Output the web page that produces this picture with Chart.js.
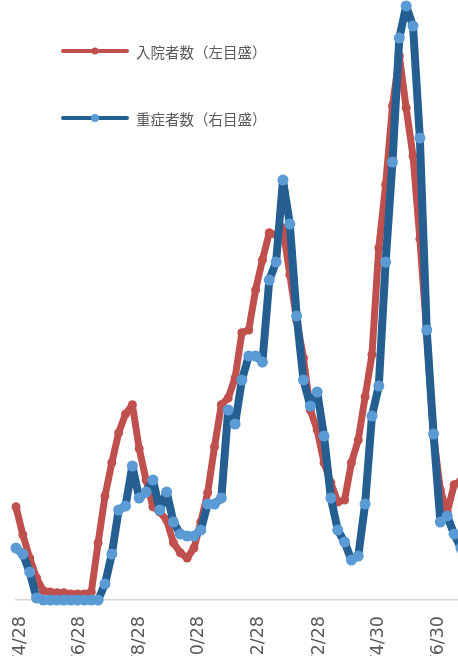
<!DOCTYPE html>
<html lang="ja">
<head>
<meta charset="utf-8">
<title>入院者数・重症者数</title>
<script src="https://cdn.jsdelivr.net/npm/chart.js@4.4.1/dist/chart.umd.min.js"></script>
<style>
  html, body { margin: 0; padding: 0; background: #ffffff; }
  #wrap { position: relative; width: 458px; height: 656px; overflow: hidden; }
  #myChart { display: block; }
  #legend { position: absolute; left: 61px; top: 0; font-family: "Noto Sans CJK JP", sans-serif; font-size: 14.5px; color: #595959; }
  .legend-item { position: absolute; left: 0; height: 20px; display: flex; align-items: center; white-space: nowrap; }
  .legend-line { position: relative; width: 68px; height: 4.5px; border-radius: 2px; margin-right: 7px; }
  .legend-dot { position: absolute; left: 50%; top: 50%; border-radius: 50%; transform: translate(-50%, -50%); }
</style>
</head>
<body>
<div id="wrap">
  <canvas id="myChart" width="458" height="656"></canvas>
  <div id="legend"></div>
</div>
<script>
// weekly points (Sundays)
const weeks = [
  '2020/4/26', '2020/5/3', '2020/5/10', '2020/5/17', '2020/5/24', '2020/5/31', '2020/6/7', '2020/6/14',
  '2020/6/21', '2020/6/28', '2020/7/5', '2020/7/12', '2020/7/19', '2020/7/26', '2020/8/2', '2020/8/9',
  '2020/8/16', '2020/8/23', '2020/8/30', '2020/9/6', '2020/9/13', '2020/9/20', '2020/9/27', '2020/10/4',
  '2020/10/11', '2020/10/18', '2020/10/25', '2020/11/1', '2020/11/8', '2020/11/15', '2020/11/22', '2020/11/29',
  '2020/12/6', '2020/12/13', '2020/12/20', '2020/12/27', '2021/1/3', '2021/1/10', '2021/1/17', '2021/1/24',
  '2021/1/31', '2021/2/7', '2021/2/14', '2021/2/21', '2021/2/28', '2021/3/7', '2021/3/14', '2021/3/21',
  '2021/3/28', '2021/4/4', '2021/4/11', '2021/4/18', '2021/4/25', '2021/5/2', '2021/5/9', '2021/5/16',
  '2021/5/23', '2021/5/30', '2021/6/6', '2021/6/13', '2021/6/20', '2021/6/27', '2021/7/4', '2021/7/11',
  '2021/7/18', '2021/7/25'
];

// 入院者数（左目盛）
const hospitalized = [
  233, 163, 105, 55, 23, 20, 18, 18, 15, 15,
  15, 20, 143, 260, 343, 418, 465, 488, 378, 300,
  233, 220, 200, 143, 118, 105, 130, 195, 268, 383,
  488, 505, 555, 668, 675, 775, 850, 918, 913, 930,
  813, 700, 605, 475, 425, 343, 293, 245, 250, 343,
  400, 508, 613, 880, 1038, 1235, 1360, 1230, 1110, 903,
  668, 410, 275, 220, 288, 298
];

// 重症者数（右目盛）
const severe = [
  26, 23, 14, 1, 0, 0, 0, 0, 0, 0,
  0, 0, 0, 8, 23, 45, 47, 67, 51, 54,
  60, 45, 54, 39, 33, 32, 32, 35, 48, 48,
  51, 95, 88, 110, 122, 122, 119, 160, 169, 210,
  188, 142, 110, 97, 104, 82, 51, 35, 29, 20,
  22, 48, 92, 107, 169, 219, 281, 297, 287, 231,
  135, 83, 39, 42, 33, 26
];

const tickLabels = ['2020/4/28', '2020/6/28', '2020/8/28', '2020/10/28', '2020/12/28', '2021/2/28', '2021/4/30', '2021/6/30'];

function dayNo(s) {
  const p = s.split('/').map(Number);
  return Date.UTC(p[0], p[1] - 1, p[2]) / 86400000;
}
const day0 = dayNo(weeks[0]);
const tickDays = tickLabels.map(s => dayNo(s) - day0);

const data = {
  datasets: [{
    label: '入院者数（左目盛）',
    data: weeks.map((w, i) => ({ x: dayNo(w) - day0, y: hospitalized[i] })),
    yAxisID: 'y',
    borderColor: '#c0504d',
    backgroundColor: '#c0504d',
    borderWidth: 7,
    pointRadius: 4.5,
    pointBorderWidth: 0,
    pointBackgroundColor: '#c0504d',
    borderJoinStyle: 'round',
    borderCapStyle: 'round',
    tension: 0,
    clip: false,
    order: 1
  }, {
    label: '重症者数（右目盛）',
    data: weeks.map((w, i) => ({ x: dayNo(w) - day0, y: severe[i] })),
    yAxisID: 'y1',
    borderColor: '#255e91',
    backgroundColor: '#5b9bd5',
    borderWidth: 8,
    pointRadius: 5.5,
    pointBorderWidth: 0,
    pointBackgroundColor: '#5b9bd5',
    borderJoinStyle: 'round',
    borderCapStyle: 'round',
    tension: 0,
    clip: false,
    order: 0
  }]
};

const config = {
  type: 'line',
  data: data,
  options: {
    responsive: false,
    animation: false,
    layout: { autoPadding: false, padding: { left: 16, right: 0, top: 0, bottom: 0 } },
    plugins: {
      legend: { display: false },
      tooltip: { enabled: false }
    },
    scales: {
      x: {
        type: 'linear',
        min: 0,
        max: 452,
        afterBuildTicks: function(axis) {
          axis.ticks = tickDays.map(v => ({ value: v }));
        },
        afterFit: function(axis) {
          // the picture is cut: labels run off the bottom edge
          axis.height = 56;
          axis.paddingLeft = 0;
          axis.paddingRight = 0;
          axis.paddingTop = 0;
          axis.paddingBottom = 0;
        },
        grid: { display: false, drawTicks: false },
        border: { display: true, color: '#d9d9d9', width: 1.5 },
        ticks: {
          autoSkip: false,
          minRotation: 90,
          maxRotation: 90,
          padding: 16,
          labelOffset: 2,
          color: '#595959',
          font: { family: '"DejaVu Sans", sans-serif', size: 17.5 },
          callback: function(value, index) { return tickLabels[index]; }
        }
      },
      y: { display: false, position: 'left', min: 0, max: 1500 },
      y1: { display: false, position: 'right', min: 0, max: 300 }
    }
  }
};

const myChart = new Chart(document.getElementById('myChart'), config);

// legend like the original (line + marker, stacked)
const legendTops = [41, 108];
const legendBox = document.getElementById('legend');
myChart.data.datasets.forEach(function(ds, i) {
  const item = document.createElement('div');
  item.className = 'legend-item';
  item.style.top = legendTops[i] + 'px';
  const line = document.createElement('span');
  line.className = 'legend-line';
  line.style.background = ds.borderColor;
  const dot = document.createElement('span');
  dot.className = 'legend-dot';
  const r = i === 0 ? 7 : 8;
  dot.style.width = r + 'px';
  dot.style.height = r + 'px';
  dot.style.background = ds.pointBackgroundColor;
  line.appendChild(dot);
  const txt = document.createElement('span');
  txt.textContent = ds.label;
  item.appendChild(line);
  item.appendChild(txt);
  legendBox.appendChild(item);
});
</script>
</body>
</html>
